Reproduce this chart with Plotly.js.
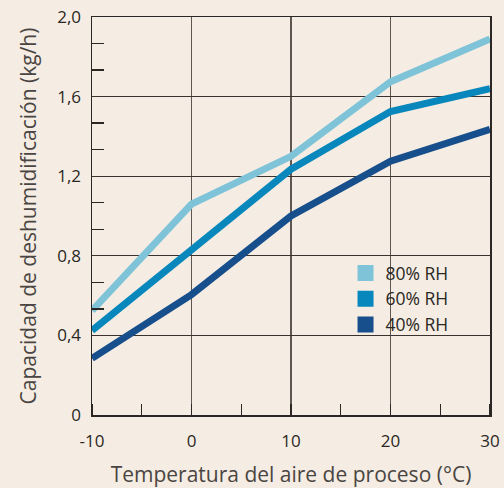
<!DOCTYPE html>
<html><head><meta charset="utf-8">
<script src="https://cdn.plot.ly/plotly-3.0.1.min.js"></script>
<style>html,body{margin:0;padding:0;background:#f5ede3;}</style>
</head><body><div id="chart" style="width:504px;height:488px;"></div>
<script>
const temps = [-10, 0, 10, 20, 30];
const rh80 = [0.525, 1.06, 1.30, 1.675, 1.89];
const rh60 = [0.425, 0.835, 1.235, 1.525, 1.64];
const rh40 = [0.285, 0.605, 1.00, 1.275, 1.435];
const seriesNames = ['80% RH', '60% RH', '40% RH'];
const seriesColors = ['#7fc3d8', '#0787bb', '#174e8c'];
const xTickVals = [-10, 0, 10, 20, 30];
const xTickText = ['-10', '0', '10', '20', '30'];
const yTickVals = [0, 0.4, 0.8, 1.2, 1.6, 2.0];
const yTickText = ['0', '0,4', '0,8', '1,2', '1,6', '2,0'];
const yMinorVals = [0.5333, 0.6667, 0.9333, 1.0667, 1.3333, 1.4667, 1.7333, 1.8667];
const xTitle = 'Temperatura del aire de proceso (°C)';
const yTitle = 'Capacidad de deshumidificación (kg/h)';

const font = 'Open Sans, sans-serif';
const allY = [rh80, rh60, rh40];
const traces = [];
allY.forEach((ys, i) => {
  traces.push({x: temps, y: ys, type: 'scatter', mode: 'lines', showlegend: false,
    line: {color: seriesColors[i], width: 7}, hoverinfo: 'skip'});
});
allY.forEach((ys, i) => {
  traces.push({x: [null], y: [null], type: 'scatter', mode: 'markers', name: seriesNames[i],
    marker: {symbol: 'square', size: 16, color: seriesColors[i]}});
});
traces.push({x: [null], y: [null], yaxis: 'y2', type: 'scatter', showlegend: false});

const layout = {
  width: 504, height: 488,
  paper_bgcolor: '#f5ede3', plot_bgcolor: '#f5ede3',
  margin: {l: 92, r: 14, t: 17, b: 73},
  font: {family: font, color: '#2b2724', size: 17},
  showlegend: true,
  legend: {x: 0.637, y: 0.402, xanchor: 'left', yanchor: 'top', bgcolor: 'rgba(0,0,0,0)',
    font: {family: font, size: 17.5, color: '#2b2724'}, tracegroupgap: 0, itemwidth: 30},
  xaxis: {range: [-10, 30], tickvals: xTickVals, ticktext: xTickText, ticks: '',
    ticklabelstandoff: 10,
    showgrid: true, gridcolor: '#5f5651', gridwidth: 1.3, zeroline: false,
    showline: true, linecolor: '#2b2724', linewidth: 1.5, mirror: true,
    minor: {dtick: 5, tick0: -10, ticks: 'inside', ticklen: 11, tickcolor: '#2b2724', tickwidth: 1.3, showgrid: false},
    title: {text: xTitle, font: {family: font, size: 21, color: '#4a4542'}, standoff: 20},
    tickfont: {family: font, size: 17, color: '#2b2724'}, fixedrange: true},
  yaxis: {range: [0, 2.0], tickvals: yTickVals, ticktext: yTickText, ticks: '',
    ticklabelstandoff: 6,
    showgrid: true, gridcolor: '#3a322e', gridwidth: 1.3, zeroline: false,
    showline: true, linecolor: '#2b2724', linewidth: 1.5, mirror: true,
    title: {text: yTitle, font: {family: font, size: 21, color: '#4a4542'}, standoff: 15},
    tickfont: {family: font, size: 17, color: '#2b2724'}, fixedrange: true},
  yaxis2: {range: [0, 2.0], overlaying: 'y', side: 'left', tickvals: yMinorVals,
    showticklabels: false, ticks: 'inside', ticklen: 12, tickcolor: '#2b2724', tickwidth: 1.3,
    showgrid: false, zeroline: false, showline: false, fixedrange: true}
};
Plotly.newPlot('chart', traces, layout, {displayModeBar: false, staticPlot: true});
</script></body></html>
